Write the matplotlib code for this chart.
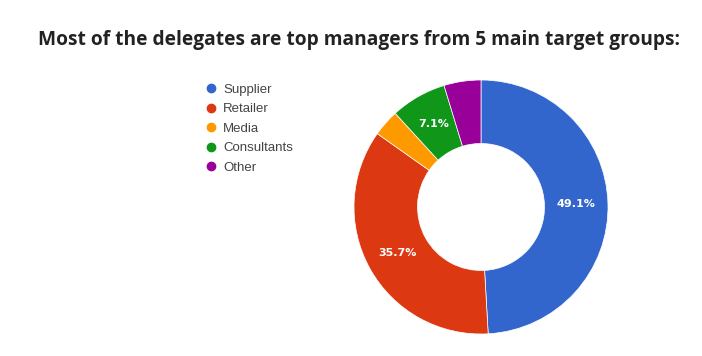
import numpy as np
import matplotlib.pyplot as plt
from matplotlib.lines import Line2D

# Delegate share by target group
groups = ["Supplier", "Retailer", "Media", "Consultants", "Other"]
shares = [49.1, 35.7, 3.4, 7.1, 4.7]
colors = ["#3366cc", "#dc3912", "#ff9900", "#109618", "#990099"]

W, H = 702, 356
fig = plt.figure(figsize=(W / 100, H / 100), dpi=100)

fig.text(0.5 + 8 / W, 1 - 40 / H, "Most of the delegates are top managers from 5 main target groups:",
         ha="center", va="center", fontsize=13.8, fontweight="bold", color="#222222",
         family="Open Sans")

# donut centred at (481, 207) px, radius 127 px
cx, cy, r = 481, 207, 127
ax = fig.add_axes([(cx - r) / W, (H - cy - r) / H, 2 * r / W, 2 * r / H])
wedges, _ = ax.pie(shares, colors=colors, startangle=90, counterclock=False,
                   radius=1, wedgeprops=dict(width=0.5, edgecolor="white", linewidth=0.5))

# percent labels on the bigger slices
for w, v in zip(wedges, shares):
    if v < 5:
        continue
    ang = np.deg2rad((w.theta1 + w.theta2) / 2)
    ax.text(0.75 * np.cos(ang), 0.75 * np.sin(ang), f"{v}%", ha="center", va="center",
            color="white", fontsize=8, fontweight="bold", family="DejaVu Sans")
ax.set_xlim(-1, 1)
ax.set_ylim(-1, 1)
ax.set_aspect("equal")
ax.axis("off")

handles = [Line2D([], [], marker="o", linestyle="", markersize=6, color=c) for c in colors]
fig.legend(handles, groups, loc="upper left", bbox_to_anchor=(198 / W, 1 - 78 / H),
           frameon=False, prop={"family": "Liberation Sans", "size": 9.5},
           labelcolor="#444444", handletextpad=0.3,
           labelspacing=0.56, borderaxespad=0, handlelength=1.2)

fig.savefig("out.png", dpi=100, facecolor="white")
